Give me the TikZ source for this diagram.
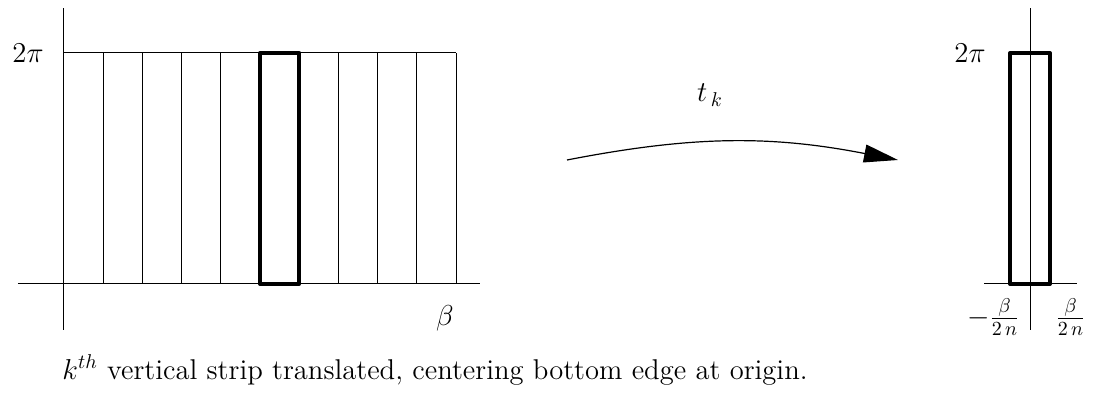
\documentclass[tikz,border=0pt]{standalone}
\usepackage{amsmath}
\usepackage{tikz}
\usetikzlibrary{arrows.meta, positioning, calc}
\tikzset{
  axis/.style={line width=0.5pt, color=black},
  gridline/.style={line width=0.5pt, color=black},
  strip/.style={line width=2pt, color=black, line join=round},
  maparrow/.style={-{Triangle[length=17pt, width=9pt]}, line width=0.6pt, color=black},
  lbl/.style={font=\fontsize{14.3}{17}\selectfont, inner sep=1pt}
}

\begin{document}
\begin{tikzpicture}[x=0.5pt, y=0.5pt]
  \useasboundingbox (-64,-110) rectangle (1031,284);
  % left picture: the cylinder cut into strips
  \coordinate (oL) at (0,0);
  \draw[axis] (-46,0) -- (416,0);
  \draw[axis] (0,-46) -- (0,276);
  \draw[gridline] (0,231) -- (392,231);
  \foreach \i in {0,...,10}
    \draw[gridline] (\i*39.2,0) -- (\i*39.2,231);
  \draw[strip] (196,0) rectangle (235.2,231);
  \node[lbl] (twopiL) at (-36,231) {$2\pi$};
  \node[lbl] (betaL) at (381,-34) {$\beta$};
  % the map
  \coordinate (mapfrom) at (503,124);
  \coordinate (mapto) at (834,124);
  \draw[maparrow] (mapfrom) to[bend left=11] (mapto);
  \node[lbl] (tk) at (646,189) {$t_{\,k}$};
  % right picture: the strip moved to the origin
  \coordinate (oR) at (966,0);
  \draw[axis] (920,0) -- (1013,0);
  \draw[axis] (966,-46) -- (966,276);
  \draw[strip] (946,0) rectangle (986,231);
  \node[lbl] (twopiR) at (906,231) {$2\pi$};
  \node[lbl, anchor=east] (lowR) at (958,-33) {$-\frac{\beta}{2\,n}$};
  \node[lbl, anchor=west] (highR) at (989,-33) {$\frac{\beta}{2\,n}$};
  % caption
  \node[lbl, anchor=west] (caption) at (-4,-86)
    {$k^{th}$ vertical strip translated, centering bottom edge at origin.};
\end{tikzpicture}
\end{document}
